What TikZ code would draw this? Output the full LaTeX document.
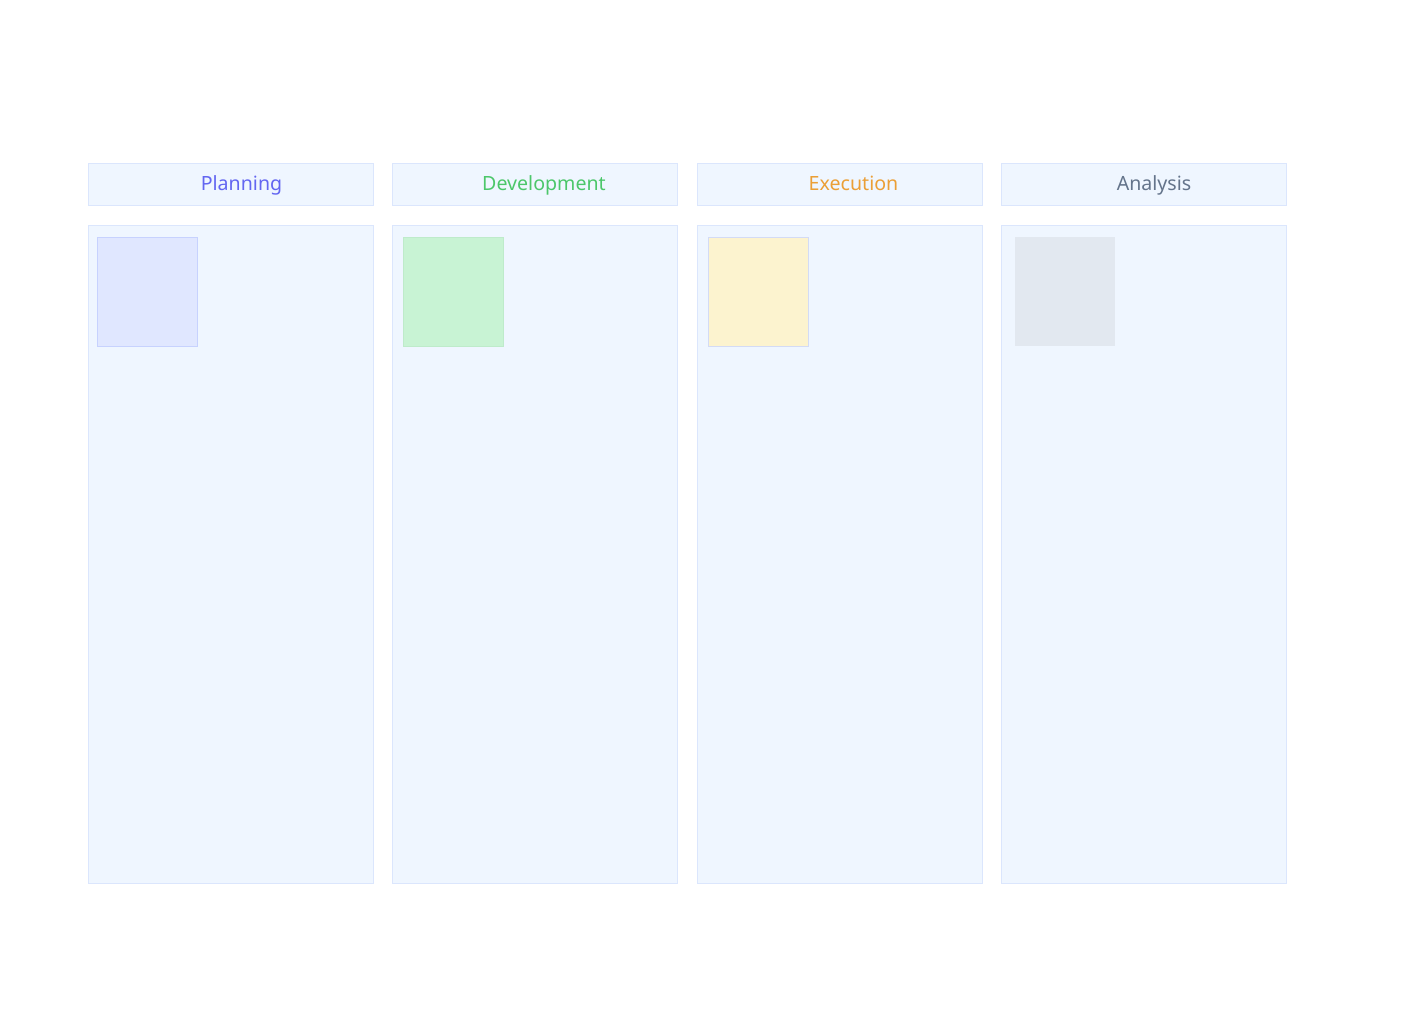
\documentclass[tikz,border=0pt]{standalone}
\usepackage{fontspec}
\setmainfont{Noto Sans}
\usepackage{xcolor}
\usetikzlibrary{positioning}
\definecolor{laneFill}{HTML}{EFF6FF}
\definecolor{laneLine}{HTML}{DBE6FD}
\definecolor{planText}{HTML}{6366F1}
\definecolor{devText}{HTML}{4CC76A}
\definecolor{execText}{HTML}{EB9F36}
\definecolor{anaText}{HTML}{64748B}
\definecolor{planFill}{HTML}{E0E7FF}
\definecolor{planLine}{HTML}{C7D2FE}
\definecolor{devFill}{HTML}{C8F3D4}
\definecolor{devLine}{HTML}{BEEBCB}
\definecolor{execFill}{HTML}{FCF3CF}
\definecolor{execLine}{HTML}{D3DBF5}
\definecolor{anaFill}{HTML}{E2E8F0}

\begin{document}
\begin{tikzpicture}[
    x=0.5pt, y=-0.5pt,
    lanehead/.style={draw=laneLine, fill=laneFill, line width=0.5pt, minimum width=142.5pt, minimum height=21pt, inner sep=0},
    lanebody/.style={draw=laneLine, fill=laneFill, line width=0.5pt, minimum width=142.5pt, minimum height=329pt, inner sep=0},
    lanetitle/.style={font=\fontsize{9.8}{12}\selectfont, inner sep=0, anchor=base},
    card/.style={line width=0.5pt, minimum width=50pt, minimum height=54.5pt, inner sep=0}]
\useasboundingbox (0,0) rectangle (1418,1024);

% lanes
\node[lanehead] (headPlan) at (230.5,184) {};
\node[lanehead] (headDev)  at (535,184)   {};
\node[lanehead] (headExec) at (839.5,184) {};
\node[lanehead] (headAna)  at (1144,184)  {};

\node[lanebody] (bodyPlan) at (230.5,554) {};
\node[lanebody] (bodyDev)  at (535,554)   {};
\node[lanebody] (bodyExec) at (839.5,554) {};
\node[lanebody] (bodyAna)  at (1144,554)  {};

% titles
\node[lanetitle, text=planText] (titlePlan) at ([xshift=5.5pt, yshift=-3pt]headPlan.center) {Planning};
\node[lanetitle, text=devText]  (titleDev)  at ([xshift=4.5pt, yshift=-3pt]headDev.center)  {Development};
\node[lanetitle, text=execText] (titleExec) at ([xshift=7pt, yshift=-3pt]headExec.center)   {Execution};
\node[lanetitle, text=anaText]  (titleAna)  at ([xshift=5pt, yshift=-3pt]headAna.center)    {Analysis};

% cards
\node[card, draw=planLine, fill=planFill] (cardPlan) at (147,291.5)    {};
\node[card, draw=devLine, fill=devFill]   (cardDev)  at (453,291.5)    {};
\node[card, draw=execLine, fill=execFill] (cardExec) at (758.5,291.5)  {};
\node[card, fill=anaFill]                 (cardAna)  at (1064.5,291.5) {};

\end{tikzpicture}
\end{document}
